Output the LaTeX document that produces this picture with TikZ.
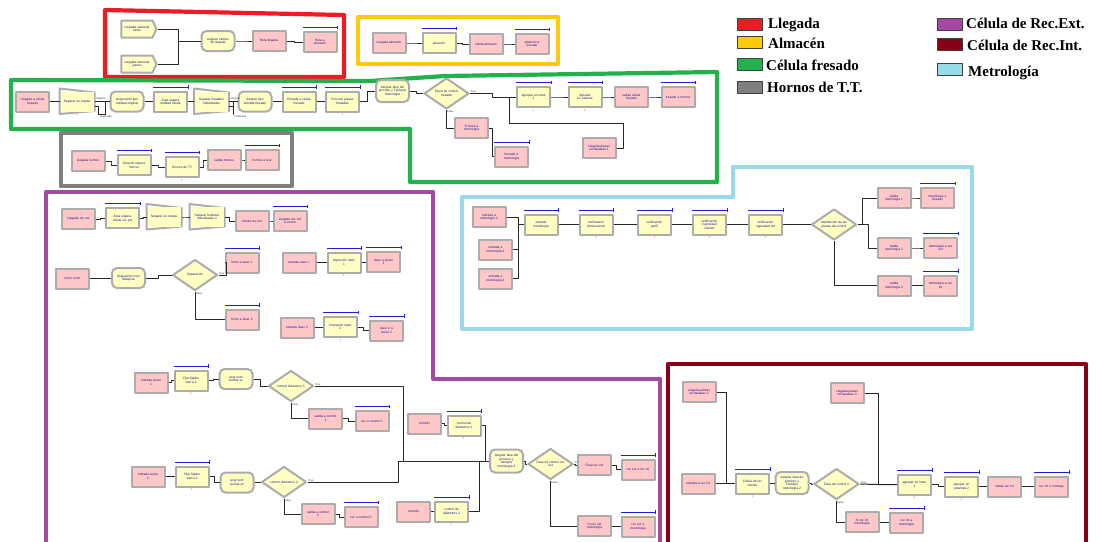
\documentclass[tikz,border=0pt]{standalone}
\usepackage{fontspec}
\setmainfont{Liberation Serif}
\setsansfont{Liberation Sans}
\usepackage{tikz}
\usetikzlibrary{calc,shapes.geometric,shapes.symbols}

\definecolor{rosa}{RGB}{255,199,199}
\definecolor{crema}{RGB}{255,255,196}
\definecolor{cLlegada}{RGB}{237,28,36}
\definecolor{cAlmacen}{RGB}{255,201,14}
\definecolor{cFresado}{RGB}{34,177,76}
\definecolor{cHornos}{RGB}{127,127,127}
\definecolor{cRext}{RGB}{163,73,164}
\definecolor{cRint}{RGB}{136,0,21}
\definecolor{cMetro}{RGB}{153,217,234}
\definecolor{azulq}{RGB}{30,30,220}
\definecolor{txtmod}{RGB}{20,20,140}

\begin{document}
\begin{tikzpicture}[x=1pt, y=-1pt, line join=round,
    mod/.style={draw=gray!65, line width=2pt, fill=crema, align=center,
      text width=29pt, inner sep=0.6pt, minimum width=33pt, minimum height=20pt,
      font=\sffamily\fontsize{3.2}{3.6}\selectfont, text=txtmod},
    est/.style={mod, fill=rosa},
    proc/.style={mod},
    asig/.style={mod, rounded corners=5pt},
    crear/.style={mod, signal, signal to=east, signal pointer angle=130,
      text width=27pt, minimum width=35pt, minimum height=17pt},
    sepborde/.style={draw=gray!65, line width=2pt},
    sep/.style={mod, draw=none, append after command={\pgfextra{\let\sepnodo\tikzlastnode
      \draw[sepborde] ($(\sepnodo.north west)+(0,-2)$) -- ($(\sepnodo.north east)+(0,2)$)
        -- ($(\sepnodo.south east)+(0,-1.5)$) -- ($(\sepnodo.south west)+(0,1.5)$) -- cycle;}}},
    dec/.style={mod, diamond, aspect=2, text width=30pt, inner sep=0pt,
      minimum width=45pt, minimum height=31pt},
    sino/.style={dec, label={[vf,anchor=south west]0:True},
      label={[vf,anchor=north west]-90:False}},
    vf/.style={font=\sffamily\fontsize{2.6}{3}\selectfont, inner sep=0.5pt, text=black!80},
    cuenta/.style={label={[font=\sffamily\fontsize{3}{3}\selectfont, text=red!75, inner sep=0.8pt]-90:1}},
    con/.style={draw=black!85, line width=1pt},
    qbar/.style={draw=azulq, line width=0.8pt},
    grupo/.style={line width=4.2pt},
    leyq/.style={draw=black!75, line width=0.6pt, minimum width=25pt, minimum height=12pt, inner sep=0pt},
    leyt/.style={anchor=base west, inner sep=0pt, font=\bfseries\fontsize{15}{17}\selectfont},
    escalon/.style={to path={-| ($(\tikztostart)!.5!(\tikztotarget)$) |- (\tikztotarget)}}]

    % barra azul de cola sobre un modulo
    \def\barcola#1{\draw[qbar] ([yshift=3.5pt]#1.north west) -- ([yshift=3.5pt]#1.north east) ++(0pt,-1.6pt) -- ++(0pt,3.2pt);}

    % 1. marco
    \useasboundingbox (0,0) rectangle (1099,541);
    \clip (0,0) rectangle (1099,541);

    % 2. leyenda
    \node[leyq, fill=cLlegada] (qLl) at (749.5,24) {};
    \node[leyt] (tLl) at (768,28) {Llegada};
    \node[leyq, fill=cAlmacen] (qAl) at (749.5,42) {};
    \node[leyt] (tAl) at (768,48) {Almacén};
    \node[leyq, fill=cFresado] (qFr) at (749.5,64.5) {};
    \node[leyt] (tFr) at (766,70) {Célula fresado};
    \node[leyq, fill=cHornos] (qHo) at (749.5,87) {};
    \node[leyt] (tHo) at (767,92) {Hornos de T.T.};
    \node[leyq, fill=cRext] (qRe) at (949.5,24) {};
    \node[leyt] (tRe) at (966,28) {Célula de Rec.Ext.};
    \node[leyq, fill=cRint] (qRi) at (949.5,44) {};
    \node[leyt] (tRi) at (967,50) {Célula de Rec.Int.};
    \node[leyq, fill=cMetro] (qMe) at (949.5,69.5) {};
    \node[leyt] (tMe) at (968,76) {Metrología};

    % 3. contornos de las areas
    \draw[grupo, cLlegada] (105,10) -- (344,15) -- (344,77) -- (105,77) -- cycle;
    \draw[grupo, cAlmacen] (358,17) rectangle (558,64);
    \draw[grupo, cFresado] (11,80) -- (370,81) -- (445,76) -- (717,72) -- (717,182)
      -- (410,182) -- (410,129) -- (11,129) -- cycle;
    \draw[grupo, cHornos] (61,133) rectangle (292,186);
    \draw[grupo, cRext] (46,192) -- (433,192) -- (433,379) -- (660,379) -- (660,548)
      -- (46,548) -- cycle;
    \draw[grupo, cMetro] (462,197) -- (733,197) -- (733,167) -- (972,167) -- (972,329)
      -- (462,329) -- cycle;
    \draw[grupo, cRint] (668,364) -- (1086,364) -- (1086,548) -- (668,548) -- cycle;

    % 4. llegada
    \node[crear] (lunes) at (137,29) {Llegada semanal\\ lunes};
    \node[crear] (jueves) at (137,64) {Llegada semanal\\ jueves};
    \node[asig] (asigLl) at (218,41) {Asignar tiempo\\ de llegada};
    \node[est] (rutaLl) at (269,41) {Ruta llegada};
    \node[est] (rutaAlm) at (320,42) {Ruta a\\ almacén};
    \barcola{rutaAlm}
    \coordinate (jLl) at (178,41);
    \draw[con] (lunes.east) -| (jLl) -- (asigLl.west);
    \draw[con] (jueves.east) -| (jLl);
    \draw[con] (asigLl.east) to[escalon] (rutaLl.west);
    \draw[con] (rutaLl.east) to[escalon] (rutaAlm.west);

    % 5. almacen
    \node[est] (llegAlm) at (389,43) {Llegada almacén};
    \node[proc] (almacen) at (439,43) {almacén};
    \node[est] (salAlm) at (486,44) {salida almacén};
    \node[est] (almFres) at (532,44) {almacén a\\ fresado};
    \barcola{almacen}
    \barcola{almFres}
    \draw[con] (llegAlm.east) to[escalon] (almacen.west);
    \draw[con] (almacen.east) to[escalon] (salAlm.west);
    \draw[con] (salAlm.east) to[escalon] (almFres.west);

    % 6. celula fresado
    \node[est] (llegFres) at (32.5,101.5) {Llegada a célula\\ fresado};
    \node[sep, cuenta] (sepA) at (77,101.5) {Separar en copias};
    \node[asig] (asigA) at (127,101.5) {Asignación tipo\\ entidad original};
    \node[proc] (procA) at (170.5,101.5) {Área espera\\ entidad célula};
    \node[sep] (sepB) at (211.5,101.5) {Separar fresados\\ individuales};
    \node[asig] (asigB) at (255,101.5) {Asignar tipo\\ entidad fresado};
    \node[proc] (procB) at (299,101.5) {Entrada a célula\\ fresado};
    \node[proc, cuenta] (procC) at (342.5,101.5) {Proceso piezas\\ fresadas};
    \node[asig, minimum height=22pt] (asigF) at (392.5,91) {Asignar fase del\\ proceso y Tiempos\\ metrología};
    \node[sino] (decF) at (446.5,93.5) {Pieza de control\\ fresado};
    \node[proc, cuenta] (loteA) at (533.5,97) {Agrupar en lotes\\ 1};
    \node[proc, cuenta] (estA) at (585,97) {Agrupar\\ en estante};
    \node[est] (salFres) at (631.5,97) {salida célula\\ fresado};
    \node[est] (fresHor) at (678,97) {fresado a hornos};
    \node[est] (siFres) at (471.5,128) {Si fresa a\\ metrología};
    \node[est] (fresMet) at (511.5,156.5) {fresado a\\ metrología};
    \node[est] (rech1) at (599,148) {Llegada piezas\\ rechazadas 1};
    \foreach \m in {procA,procB,procC,loteA,estA,fresHor,fresMet} {\barcola{\m}}
    \draw[con] (llegFres.east) to[escalon] (sepA.west);
    \draw[con] (sepA.east) -- (asigA.west);
    \draw[con] (sepA.east) ++(0,5) -| ++(4,8) -| ($(asigA.west)+(-4,0)$);
    \node[vf, anchor=south west] (origA) at ($(sepA.east)+(1,-0.5)$) {Original};
    \node[vf, anchor=north west] (dupA) at ($(sepA.east)+(5,13)$) {Duplicado};
    \draw[con] (asigA.east) to[escalon] (procA.west);
    \draw[con] (procA.east) to[escalon] (sepB.west);
    \draw[con] (sepB.east) -- (asigB.west);
    \draw[con] (sepB.east) ++(0,5) -| ++(4,8) -| ($(asigB.west)+(-4,0)$);
    \node[vf, anchor=south west] (origB) at ($(sepB.east)+(1,-0.5)$) {Original};
    \node[vf, anchor=north west] (dupB) at ($(sepB.east)+(5,13)$) {Duplicado};
    \draw[con] (asigB.east) to[escalon] (procB.west);
    \draw[con] (procB.east) to[escalon] (procC.west);
    \draw[con] (procC.east) to[escalon] (asigF.west);
    \draw[con] (asigF.east) to[escalon] (decF.west);
    \draw[con] (decF.east) -| (492,97) -- (loteA.west);
    \draw[con] (rech1.east) -- ++(7,0) |- (509,123) -- (509,97);
    \draw[con] (loteA.east) to[escalon] (estA.west);
    \draw[con] (estA.east) to[escalon] (salFres.west);
    \draw[con] (salFres.east) to[escalon] (fresHor.west);
    \draw[con] (decF.south) |- (siFres.west);
    \draw[con] (siFres.east) -| ++(3,28.5) -- (fresMet.west);

    % 7. hornos de T.T.
    \node[est] (llegHor) at (88,161) {Llegada hornos};
    \node[proc] (espHor) at (134,165) {Área de espera\\ hornos};
    \node[proc, cuenta] (hornoTT) at (182,167) {Hornos de TT};
    \node[est] (salHor) at (224,160) {salida hornos};
    \node[est] (horRext) at (262,160) {hornos a rext};
    \foreach \m in {espHor,hornoTT,horRext} {\barcola{\m}}
    \draw[con] (llegHor.east) to[escalon] (espHor.west);
    \draw[con] (espHor.east) to[escalon] (hornoTT.west);
    \draw[con] (hornoTT.east) to[escalon] (salHor.west);
    \draw[con] (salHor.east) to[escalon] (horRext.west);

    % 8. celula de rec. ext.
    \node[est] (llegRext) at (78.5,219) {Llegada rec ext};
    \node[proc] (espRext) at (122.5,218) {Área espera\\ célula rec ext};
    \node[sep] (sepC) at (164,217) {Separar en copias};
    \node[sep] (sepD) at (207,217) {Separar fundidos\\ individuales 2};
    \node[est] (celRext) at (252,221) {Célula rec ext};
    \node[est] (llegRextC) at (290,221) {Llegada rec ext\\ a centro};
    \foreach \m in {espRext,llegRextC} {\barcola{\m}}
    \draw[con] (llegRext.east) to[escalon] (espRext.west);
    \draw[con] (espRext.east) to[escalon] (sepC.west);
    \draw[con] (sepC.east) to[escalon] (sepD.west);
    \draw[con] (sepD.east) to[escalon] (celRext.west);
    \draw[con] (celRext.east) to[escalon] (llegRextC.west);

    \node[est] (inicio) at (72.5,278.5) {Inicio turno};
    \node[asig] (asigMaq) at (128.5,278) {Asignación num\\ Máquina};
    \node[sino] (decSep) at (195,275) {Separación};
    \node[est] (iniL1) at (242,262.5) {Inicio a laser 1};
    \node[est] (iniL2) at (242,319.5) {Inicio a laser 2};
    \node[est] (entL1) at (299,262.5) {entrada laser 1};
    \node[proc, cuenta] (impL1) at (344,262.5) {Impresión laser\\ 1};
    \node[est] (lasS1) at (383.5,262) {laser a sierra\\ 1};
    \node[est] (entL2) at (297,327.5) {entrada laser 2};
    \node[proc, cuenta] (impL2) at (340.5,327) {Impresión laser\\ 2};
    \node[est] (lasS2) at (386.5,330.5) {laser 2 a\\ sierra 2};
    \foreach \m in {iniL1,iniL2,impL1,lasS1,impL2,lasS2} {\barcola{\m}}
    \draw[con] (inicio.east) to[escalon] (asigMaq.west);
    \draw[con] (asigMaq.east) to[escalon] (decSep.west);
    \draw[con] (decSep.east) -| ++(8,-12.5) -- (iniL1.west);
    \draw[con] (decSep.south) |- (iniL2.west);
    \draw[con] (entL1.east) to[escalon] (impL1.west);
    \draw[con] (impL1.east) to[escalon] (lasS1.west);
    \draw[con] (entL2.east) to[escalon] (impL2.west);
    \draw[con] (impL2.east) to[escalon] (lasS2.west);

    \node[est] (entS1) at (151,382.5) {entrada sierra\\ 1};
    \node[proc, cuenta] (fijS1) at (191,380.5) {Fijar fijador\\ sierra 1};
    \node[asig] (asigS1) at (236,379) {asig num\\ sierras s1};
    \node[sino] (decS1) at (291,386) {control diámetros 1};
    \node[est] (salC1) at (325.5,418.5) {salida a control\\ 1};
    \node[est] (recC1) at (372,421) {rec a control 1};
    \node[est] (ctl1) at (424.5,423.5) {control1};
    \node[proc, cuenta] (ctlD1) at (464,425.5) {control de\\ diámetros 1};
    \node[est] (entS2) at (148,476.5) {entrada sierra\\ 2};
    \node[proc, cuenta] (fijS2) at (192,476.5) {Fijar fijador\\ sierra 2};
    \node[asig] (asigS2) at (237,482.5) {asig num\\ sierras s2};
    \node[sino] (decS2) at (284,482) {control diámetros 2};
    \node[est] (salC2) at (318,514) {salida a control\\ 2};
    \node[est] (recC2) at (361,517) {rec a control 2};
    \node[est] (ctl2) at (413.5,511.5) {control2};
    \node[proc, cuenta] (ctlD2) at (451.5,511.5) {control de\\ diámetros 2};
    \node[asig, minimum height=23pt] (asigMet) at (506.5,461) {Asignar fase del\\ proceso y\\ tiempos\\ metrología 2};
    \node[sino] (decRext) at (550.5,464) {Fase de control rec\\ ext};
    \node[est] (finRext) at (594.5,465) {Final rec ext};
    \node[est] (rextRint) at (638,469.5) {rec ext a rec int};
    \node[est] (siRext) at (594.5,526) {Si rec ext\\ metrología};
    \node[est] (rextMet) at (638,526.5) {rec ext a\\ metrología};
    \foreach \m in {fijS1,recC1,ctlD1,fijS2,recC2,ctlD2,rextRint,rextMet} {\barcola{\m}}
    \draw[con] (entS1.east) to[escalon] (fijS1.west);
    \draw[con] (fijS1.east) to[escalon] (asigS1.west);
    \draw[con] (asigS1.east) to[escalon] (decS1.west);
    \draw[con] (decS1.south) |- (salC1.west);
    \draw[con] (salC1.east) to[escalon] (recC1.west);
    \draw[con] (ctl1.east) to[escalon] (ctlD1.west);
    \draw[con] (entS2.east) to[escalon] (fijS2.west);
    \draw[con] (fijS2.east) to[escalon] (asigS2.west);
    \draw[con] (asigS2.east) to[escalon] (decS2.west);
    \draw[con] (decS2.south) |- (salC2.west);
    \draw[con] (salC2.east) to[escalon] (recC2.west);
    \draw[con] (ctl2.east) to[escalon] (ctlD2.west);
    \coordinate (jRa) at (398,461);
    \coordinate (jRb) at (403,461);
    \coordinate (jRc) at (485,461);
    \coordinate (jRd) at (479,461);
    \draw[con] (decS1.east) -| (jRb);
    \draw[con] (decS2.east) -| (jRa) -- (asigMet.west);
    \draw[con] (ctlD1.east) -| (jRc);
    \draw[con] (ctlD2.east) -| (jRd);
    \draw[con] (asigMet.east) to[escalon] (decRext.west);
    \draw[con] (decRext.east) to[escalon] (finRext.west);
    \draw[con] (finRext.east) to[escalon] (rextRint.west);
    \draw[con] (decRext.south) |- (siRext.west);
    \draw[con] (siRext.east) to[escalon] (rextMet.west);

    % 9. metrologia
    \node[est] (entM1) at (489,217) {entrada a\\ metrología 1};
    \node[est] (entM2) at (495.5,249.5) {entrada a\\ metrología 2};
    \node[est] (entM3) at (495.5,278.5) {entrada a\\ metrología 3};
    \node[proc] (entMet) at (541,224.5) {entrada\\ metrología};
    \node[proc, cuenta] (verDim) at (596,224.5) {verificación\\ dimensional};
    \node[proc, cuenta] (verPer) at (654.5,224.5) {verificación\\ perfil};
    \node[proc, cuenta] (verRI) at (709.5,224.5) {verificación\\ rugosidad\\ interior};
    \node[proc, cuenta] (verRE) at (765.5,224.5) {verificación\\ rugosidad ext};
    \node[dec] (decMet) at (834,224.5) {distribución de las\\ piezas de control};
    \node[est] (salM1) at (894,198) {salida\\ metrología 1};
    \node[est] (metFres) at (937.5,198) {metrología a\\ fresado};
    \node[est] (salM2) at (894,248) {salida\\ metrología 2};
    \node[est] (metRext) at (940.5,248) {metrología a rec\\ ext};
    \node[est] (salM3) at (894,285.5) {salida\\ metrología 3};
    \node[est] (metRint) at (940.5,285.5) {metrología a rec\\ int};
    \foreach \m in {entMet,verDim,verPer,verRI,verRE,metFres,metRext,metRint} {\barcola{\m}}
    \coordinate (jM) at (518,224.5);
    \draw[con] (entM1.east) -| (jM) -- (entMet.west);
    \draw[con] (entM2.east) -| (jM);
    \draw[con] (entM3.east) -| (jM);
    \draw[con] (entMet.east) to[escalon] (verDim.west);
    \draw[con] (verDim.east) to[escalon] (verPer.west);
    \draw[con] (verPer.east) to[escalon] (verRI.west);
    \draw[con] (verRI.east) to[escalon] (verRE.west);
    \draw[con] (verRE.east) to[escalon] (decMet.west);
    \draw[con] (decMet.east) -| ++(5,-26.5) -- (salM1.west);
    \draw[con] (decMet.east) -| ++(11,23.5) -- (salM2.west);
    \draw[con] (decMet.south) |- (salM3.west);
    \draw[con] (salM1.east) to[escalon] (metFres.west);
    \draw[con] (salM2.east) to[escalon] (metRext.west);
    \draw[con] (salM3.east) to[escalon] (metRint.west);

    % 10. celula de rec. int.
    \node[est] (rech2) at (699,392) {Llegada piezas\\ rechazadas 2};
    \node[est] (entRint) at (698,483.5) {entrada a rec int};
    \node[proc, cuenta] (celRint) at (752.5,483.5) {Célula de rec\\ interior};
    \node[asig, minimum height=22pt] (asigRint) at (792,483) {Asignar fase de\\ proceso y\\ Tiempos\\ metrología 2};
    \node[sino] (decRint) at (836.5,484) {Fase de control 2};
    \node[est] (rech3) at (847,393) {Llegada piezas\\ rechazadas 3};
    \node[proc, cuenta] (loteB) at (914.5,484.5) {agrupar en lotes\\ 2};
    \node[proc, cuenta] (estB) at (961.5,486.5) {agrupar en\\ estantes 2};
    \node[est] (salRint) at (1004.5,486.5) {salida rec int};
    \node[est] (rintMont) at (1051.5,486.5) {rec int a montaje};
    \node[est] (siRint) at (862,522) {Si rec int\\ metrología};
    \node[est] (rintMet) at (906.5,522.5) {rec int a\\ metrología};
    \foreach \m in {celRint,loteB,estB,rintMont,rintMet} {\barcola{\m}}
    \coordinate (jRi) at (726,483.5);
    \coordinate (jLo) at (878,484.5);
    \draw[con] (rech2.east) -| (jRi);
    \draw[con] (entRint.east) -- (celRint.west);
    \draw[con] (celRint.east) to[escalon] (asigRint.west);
    \draw[con] (asigRint.east) to[escalon] (decRint.west);
    \draw[con] (decRint.east) -- (jLo) -- (loteB.west);
    \draw[con] (rech3.east) -| (jLo);
    \draw[con] (loteB.east) to[escalon] (estB.west);
    \draw[con] (estB.east) to[escalon] (salRint.west);
    \draw[con] (salRint.east) to[escalon] (rintMont.west);
    \draw[con] (decRint.south) |- (siRint.west);
    \draw[con] (siRint.east) to[escalon] (rintMet.west);
\end{tikzpicture}
\end{document}
